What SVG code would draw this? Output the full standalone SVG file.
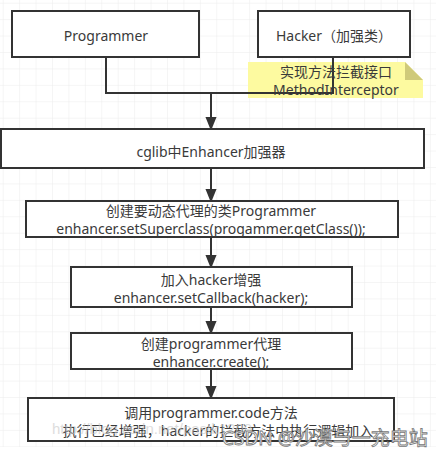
<svg xmlns="http://www.w3.org/2000/svg" width="439" height="456" viewBox="0 0 439 456">
<defs>
<pattern id="grid" x="2.7" y="2.7" width="16.43" height="16.43" patternUnits="userSpaceOnUse">
<path d="M0,0 H16.43 M0,0 V16.43" fill="none" stroke="#ebebeb" stroke-width="1"/>
</pattern>
<marker id="arr" markerWidth="14" markerHeight="16" refX="13" refY="6.5" orient="auto" markerUnits="userSpaceOnUse" viewBox="0 0 16 13">
<path d="M0,0 L16,6.5 L0,13 Z" fill="#333"/>
</marker>
</defs>
<style>
.box{fill:#fff;stroke:#333;stroke-width:2}
.t{font-family:"Noto Sans","Noto Sans CJK SC",sans-serif;font-size:14px;fill:#3a3a3a;text-anchor:middle;dominant-baseline:central}
.ln{fill:none;stroke:#333;stroke-width:2}
</style>
<rect width="439" height="456" fill="#fff"/>
<rect x="0" y="0" width="436" height="447" fill="url(#grid)"/>

<g id="note">
<polygon points="248,62 405,62 423,80 423,98 248,98" fill="#fdfaa0"/>
<polygon points="405,62 405,80 423,80" fill="#cfca7a"/>
</g>

<g id="connectors">
<path class="ln" d="M106,57 V93 H333 V57"/>
<path class="ln" d="M211,93 V128" marker-end="url(#arr)"/>
<path class="ln" d="M211,168 V200" marker-end="url(#arr)"/>
<path class="ln" d="M211,237 V266" marker-end="url(#arr)"/>
<path class="ln" d="M211,307 V332" marker-end="url(#arr)"/>
<path class="ln" d="M211,369 V397" marker-end="url(#arr)"/>
</g>

<g id="note-text">
<text class="t" x="336" y="71">实现方法拦截接口</text>
<text class="t" x="336" y="89">MethodInterceptor</text>
</g>

<g id="programmer">
<rect class="box" x="12" y="11" width="187" height="46"/>
<text class="t" x="106" y="35">Programmer</text>
</g>
<g id="hacker">
<rect class="box" x="258" y="11" width="152" height="46"/>
<text class="t" x="334" y="35">Hacker（加强类）</text>
</g>
<g id="enhancer">
<rect class="box" x="1" y="129" width="423" height="39"/>
<text class="t" x="211" y="151">cglib中Enhancer加强器</text>
</g>
<g id="superclass">
<rect class="box" x="26" y="201" width="372" height="36"/>
<text class="t" x="211" y="210">创建要动态代理的类Programmer</text>
<text class="t" x="211" y="228">enhancer.setSuperclass(progammer.getClass());</text>
</g>
<g id="callback">
<rect class="box" x="71" y="267" width="281" height="40"/>
<text class="t" x="211" y="279">加入hacker增强</text>
<text class="t" x="211" y="297">enhancer.setCallback(hacker);</text>
</g>
<g id="create">
<rect class="box" x="71" y="333" width="281" height="36"/>
<text class="t" x="211" y="343">创建programmer代理</text>
<text class="t" x="211" y="361">enhancer.create();</text>
</g>
<g id="invoke">
<rect class="box" x="28" y="398" width="366" height="43"/>
<text class="t" x="211" y="412">调用programmer.code方法</text>
<text class="t" x="218" y="430">执行已经增强，hacker的拦截方法中执行逻辑加入</text>
</g>

<g id="watermark">
<text x="52" y="428" font-family="Liberation Sans,sans-serif" font-size="15" fill="#c8c8c8" opacity="0.6" dominant-baseline="central">http://blog.csdn.net/pastk1209</text>
<text x="222" y="438" font-family="Noto Sans,Noto Sans CJK SC,sans-serif" font-size="19" fill="#fff" stroke="#777" stroke-width="0.8" dominant-baseline="central">CSDN @沙漠与一充电站</text>
</g>
</svg>
